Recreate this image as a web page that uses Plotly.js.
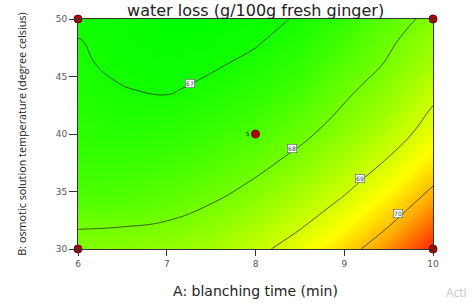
<!DOCTYPE html>
<html>
<head>
<meta charset="utf-8">
<script src="https://cdn.plot.ly/plotly-3.0.1.min.js"></script>
<style>html,body{margin:0;padding:0;background:#fff;}#chart{width:476px;height:305px;}</style>
</head>
<body>
<div id="chart"></div>
<script>
// A: blanching time (min)
var blanchingTime = [6, 6.5, 7, 7.5, 8, 8.5, 9, 9.5, 10];
// B: osmotic solution temperature (degree celsius)
var solutionTemp = [30, 32, 34, 36, 38, 40, 42, 44, 46, 48, 50];
// water loss (g/100g fresh ginger), one row per temperature
var waterLoss = [
  [68.12, 68.17, 68.30, 68.513, 68.850, 69.271, 69.776, 70.364, 71.036],
  [67.98, 67.99, 68.06, 68.241, 68.553, 68.948, 69.427, 69.990, 70.637],
  [67.636, 67.670, 67.789, 67.991, 68.278, 68.647, 69.101, 69.638, 70.260],
  [67.485, 67.494, 67.587, 67.764, 68.025, 68.369, 68.797, 69.309, 69.905],
  [67.356, 67.340, 67.407, 67.559, 67.794, 68.113, 68.515, 69.002, 69.572],
  [67.249, 67.207, 67.250, 67.375, 67.585, 67.878, 68.256, 68.716, 69.261],
  [67.165, 67.096, 67.110, 67.217, 67.399, 67.666, 68.060, 68.453, 69.060],
  [67.102, 67.008, 66.954, 67.080, 67.234, 67.477, 67.880, 68.250, 68.800],
  [67.040, 66.942, 66.888, 66.957, 67.090, 67.309, 67.660, 68.060, 68.530],
  [67.015, 66.900, 66.840, 66.864, 66.969, 67.163, 67.500, 67.920, 68.360],
  [66.930, 66.879, 66.794, 66.792, 66.874, 67.040, 67.290, 67.720, 68.180]
];
// contour levels
var levelStart = 67, levelEnd = 70, levelStep = 1;
// contour label positions and texts
var labelA = [7.26, 8.41, 9.18, 9.60];
var labelB = [44.35, 38.7, 36.17, 33.1];
var labelText = ['67', '68', '69', '70'];
// design points
var designA = [6, 6, 10, 10, 8];
var designB = [30, 50, 30, 50, 40];
var designText = ['', '', '', '', '5'];
// ticks
var xTicks = [6, 7, 8, 9, 10];
var yTicks = [30, 35, 40, 45, 50];

var traces = [
  {
    type: 'contour',
    x: blanchingTime, y: solutionTemp, z: waterLoss,
    contours: {start: levelStart, end: levelEnd, size: levelStep, coloring: 'heatmap', showlabels: false},
    colorscale: [[0, '#00ff00'], [0.626, '#ffff00'], [0.8, '#ffa500'], [1, '#ff2000']],
    zmin: 66.79, zmax: 71.04,
    line: {color: 'rgba(30,45,10,0.75)', width: 1, smoothing: 1.3},
    showscale: false,
    hoverinfo: 'skip'
  },
  {
    type: 'scatter', mode: 'markers+text',
    x: designA, y: designB, text: designText,
    textposition: 'middle left',
    textfont: {family: 'DejaVu Sans', size: 6, color: '#1a3300'},
    marker: {size: 8, color: '#b00000', line: {color: '#700000', width: 1}},
    cliponaxis: false,
    hoverinfo: 'skip'
  }
];

var annotations = labelText.map(function (t, i) {
  return {
    x: labelA[i], y: labelB[i], xref: 'x', yref: 'y', text: t, showarrow: false,
    font: {family: 'DejaVu Sans', size: 6, color: '#333355'},
    bgcolor: '#ffffff', bordercolor: '#555555', borderwidth: 0.6, borderpad: 0.5
  };
});
annotations.push({
  x: 1.03, y: -0.19, xref: 'paper', yref: 'paper', xanchor: 'left', yanchor: 'middle',
  text: 'Acti', showarrow: false,
  font: {family: 'Open Sans', size: 12, color: '#c4c4c4'}
});

var layout = {
  width: 476, height: 305,
  margin: {l: 78, r: 43, t: 19, b: 56},
  paper_bgcolor: '#ffffff', plot_bgcolor: '#ffffff',
  showlegend: false,
  title: {
    text: 'water loss (g/100g fresh ginger)',
    font: {family: 'DejaVu Sans', size: 16, color: '#222222'},
    x: 0.537, xref: 'container', xanchor: 'center',
    y: 0.965, yref: 'container', yanchor: 'middle'
  },
  xaxis: {
    range: [6, 10], tickvals: xTicks, ticks: 'outside', ticklen: 6, tickcolor: '#333',
    tickfont: {family: 'DejaVu Sans', size: 9, color: '#555'},
    showgrid: false, zeroline: false, showline: true, linecolor: '#333', mirror: true,
    title: {text: 'A: blanching time (min)', font: {family: 'DejaVu Sans', size: 14, color: '#222'}, standoff: 18}
  },
  yaxis: {
    range: [30, 50], tickvals: yTicks, ticks: 'outside', ticklen: 8, tickcolor: '#333',
    tickfont: {family: 'DejaVu Sans', size: 9, color: '#555'},
    showgrid: false, zeroline: false, showline: true, linecolor: '#333', mirror: true,
    title: {text: 'B: osmotic solution temperature (degree celsius)', font: {family: 'Open Sans', size: 10.8, color: '#222'}, standoff: 26}
  },
  annotations: annotations
};

Plotly.newPlot('chart', traces, layout, {displayModeBar: false, staticPlot: true});
</script>
</body>
</html>
